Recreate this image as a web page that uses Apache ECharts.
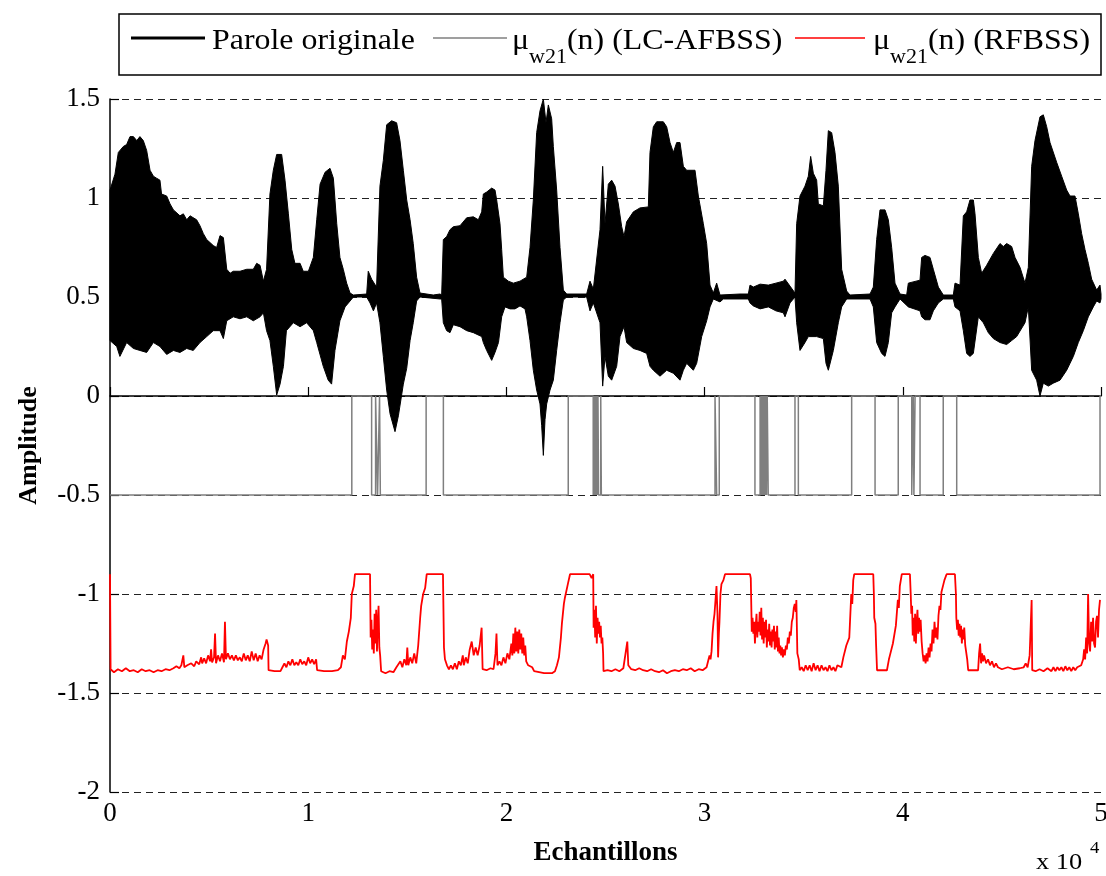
<!DOCTYPE html>
<html>
<head>
<meta charset="utf-8">
<script src="https://cdn.jsdelivr.net/npm/echarts@6/dist/echarts.min.js"></script>
<style>
  html, body { margin: 0; padding: 0; background: #fff; }
  #chart { width: 1106px; height: 876px; }
</style>
</head>
<body>
<div id="chart"></div>
<script>
// Speech waveform envelope (sample index, amplitude), offset around 0.5
const speechUpper = [
  [0,1.04],[250,1.12],[420,1.23],[670,1.26],[840,1.27],[1010,1.31],[1180,1.31],[1350,1.29],[1510,1.31],[1680,1.29],
  [1850,1.24],[2020,1.14],[2190,1.11],[2350,1.10],[2520,1.09],[2600,1.02],[2860,1.01],[3030,0.97],[3200,0.94],[3530,0.91],
  [3700,0.92],[3870,0.89],[4040,0.91],[4370,0.89],[4540,0.86],[4710,0.82],[4880,0.79],[5210,0.76],[5380,0.75],[5550,0.81],
  [5720,0.80],[5890,0.64],[6060,0.62],[6220,0.63],[6560,0.63],[6900,0.64],[7230,0.64],[7400,0.67],[7570,0.66],[7740,0.58],
  [7900,0.64],[8070,1.02],[8240,1.14],[8410,1.22],[8660,1.22],[8830,1.09],[9000,0.92],[9170,0.74],[9330,0.67],[9590,0.67],
  [9750,0.63],[10010,0.63],[10260,0.70],[10430,0.89],[10600,1.07],[10850,1.13],[11100,1.15],[11270,1.10],[11440,0.87],[11600,0.70],
  [11770,0.64],[11940,0.57],[12110,0.52],[12280,0.51],[12950,0.515],[13030,0.63],[13200,0.59],[13450,0.55],[13620,1.06],[13790,1.19],
  [13960,1.37],[14210,1.39],[14460,1.38],[14630,1.29],[14800,1.14],[14970,0.99],[15140,0.89],[15300,0.77],[15470,0.60],[15640,0.52],
  [16310,0.51],[16650,0.515],[16734,0.51],[16818,0.79],[16986,0.805],[17155,0.84],[17323,0.855],[17659,0.86],[17996,0.90],[18332,0.905],
  [18584,0.89],[18754,0.93],[18836,1.02],[19005,1.03],[19257,1.05],[19425,1.04],[19509,0.99],[19677,0.87],[19761,0.74],[19846,0.60],
  [20098,0.58],[20350,0.57],[20686,0.58],[21023,0.60],[21191,0.75],[21359,0.99],[21527,1.33],[21695,1.44],[21864,1.50],[21998,1.38],
  [22116,1.47],[22284,1.40],[22368,1.26],[22536,1.04],[22705,0.75],[22873,0.535],[23041,0.515],[24050,0.515],[24218,0.58],[24386,0.54],
  [24723,0.84],[24857,1.16],[24975,0.87],[25143,1.07],[25311,1.09],[25480,1.06],[25648,0.97],[25816,0.855],[25934,0.805],[26068,0.88],
  [26405,0.93],[26741,0.95],[27161,0.955],[27245,1.23],[27414,1.36],[27582,1.385],[27918,1.385],[28086,1.36],[28255,1.28],[28423,1.23],
  [28591,1.28],[28759,1.28],[28927,1.16],[29095,1.14],[29516,1.14],[29684,1.01],[29936,0.87],[30104,0.77],[30273,0.56],[30441,0.52],
  [30609,0.57],[30777,0.51],[31786,0.515],[32206,0.515],[32291,0.56],[32459,0.55],[32800,0.565],[33216,0.56],[33600,0.57],[33973,0.58],
  [34057,0.59],[34309,0.555],[34561,0.52],[34645,0.87],[34813,1.01],[35066,1.06],[35234,1.11],[35351,1.21],[35486,1.125],[35654,1.09],
  [35738,0.97],[35991,0.96],[36125,1.14],[36243,1.34],[36411,1.33],[36579,1.23],[36747,1.06],[36915,0.64],[37168,0.53],[37336,0.51],
  [38345,0.515],[38513,0.55],[38681,0.79],[38850,0.94],[39102,0.94],[39270,0.89],[39438,0.75],[39606,0.57],[39859,0.515],[40195,0.51],
  [40279,0.57],[40868,0.585],[40952,0.70],[41120,0.71],[41372,0.70],[41540,0.64],[41793,0.55],[42045,0.51],[42549,0.51],[42634,0.57],
  [42886,0.56],[43054,0.91],[43222,0.93],[43390,0.99],[43559,0.99],[43643,0.92],[43811,0.70],[43979,0.62],[44231,0.66],[44568,0.72],
  [44904,0.77],[45072,0.755],[45240,0.77],[45493,0.755],[45661,0.70],[45913,0.65],[46165,0.57],[46334,0.65],[46502,1.16],[46670,1.29],
  [46922,1.41],[47090,1.42],[47259,1.36],[47427,1.28],[47763,1.18],[48015,1.11],[48268,1.04],[48436,1.01],[48688,1.01],[48856,0.92],
  [49024,0.82],[49192,0.74],[49360,0.67],[49528,0.59],[49781,0.535],[49949,0.56],[50000,0.515]
];
const speechLower = [
  [0,0.28],[340,0.25],[500,0.20],[840,0.27],[1180,0.24],[1510,0.23],[1850,0.22],[2190,0.27],[2520,0.25],[2860,0.21],
  [3200,0.23],[3530,0.22],[3870,0.24],[4200,0.23],[4540,0.27],[4880,0.30],[5210,0.33],[5550,0.33],[5720,0.29],[5890,0.38],
  [6220,0.40],[6560,0.39],[6900,0.40],[7230,0.38],[7570,0.40],[7740,0.42],[7900,0.33],[8070,0.28],[8240,0.15],[8410,0.005],
  [8580,0.06],[8750,0.15],[8900,0.33],[9250,0.37],[9590,0.35],[9920,0.37],[10260,0.33],[10430,0.27],[10760,0.15],[11010,0.08],
  [11180,0.06],[11350,0.23],[11600,0.38],[11860,0.45],[12030,0.47],[12280,0.50],[12950,0.50],[13120,0.47],[13290,0.43],[13450,0.47],
  [13620,0.37],[13790,0.20],[13960,0.03],[14130,-0.09],[14380,-0.18],[14550,-0.10],[14800,0.06],[14970,0.14],[15140,0.28],[15300,0.37],
  [15470,0.48],[15640,0.50],[16650,0.49],[16734,0.49],[16818,0.37],[16986,0.33],[17155,0.32],[17323,0.36],[17659,0.35],[17996,0.33],
  [18332,0.32],[18754,0.30],[18836,0.27],[19005,0.23],[19257,0.18],[19425,0.22],[19600,0.27],[19761,0.40],[19930,0.45],[20182,0.44],
  [20434,0.44],[20686,0.455],[20939,0.44],[21023,0.40],[21191,0.28],[21359,0.13],[21527,0.03],[21695,-0.04],[21780,-0.15],[21864,-0.30],
  [21948,-0.12],[22032,-0.04],[22200,0.03],[22368,0.08],[22536,0.23],[22705,0.37],[22873,0.485],[23041,0.50],[24050,0.50],[24218,0.43],
  [24386,0.47],[24723,0.37],[24857,0.05],[24975,0.20],[25143,0.10],[25311,0.08],[25564,0.15],[25732,0.30],[25934,0.35],[26068,0.27],
  [26405,0.24],[26741,0.23],[27077,0.215],[27245,0.15],[27414,0.13],[27750,0.10],[28086,0.13],[28423,0.115],[28759,0.08],[28927,0.13],
  [29095,0.165],[29432,0.13],[29600,0.165],[29853,0.30],[30104,0.38],[30273,0.45],[30441,0.49],[30777,0.475],[30945,0.49],[31786,0.49],
  [32206,0.49],[32291,0.47],[32459,0.455],[32800,0.44],[33216,0.45],[33600,0.43],[33973,0.42],[34057,0.40],[34309,0.47],[34561,0.50],
  [34645,0.37],[34813,0.23],[35066,0.27],[35234,0.30],[35654,0.30],[35991,0.29],[36125,0.165],[36243,0.13],[36495,0.23],[36747,0.37],
  [36915,0.45],[37168,0.49],[38345,0.49],[38513,0.45],[38681,0.27],[38934,0.215],[39102,0.20],[39270,0.27],[39438,0.42],[39606,0.45],
  [39859,0.49],[40279,0.45],[40868,0.43],[40952,0.40],[41120,0.385],[41372,0.385],[41540,0.43],[41793,0.47],[42045,0.49],[42549,0.49],
  [42634,0.45],[42886,0.43],[43054,0.33],[43222,0.215],[43390,0.20],[43559,0.215],[43811,0.40],[44063,0.37],[44315,0.32],[44568,0.29],
  [44904,0.27],[45240,0.26],[45493,0.28],[45745,0.30],[46165,0.37],[46334,0.45],[46502,0.13],[46754,0.08],[46922,0.00],[47090,0.065],
  [47343,0.05],[47595,0.065],[47931,0.08],[48268,0.13],[48604,0.20],[48856,0.27],[49108,0.33],[49360,0.40],[49612,0.45],[49781,0.48],
  [49949,0.47],[50000,0.49]
];

// LC-AFBSS step size: intervals (start, end) where it sits at the upper level
const lcAfbssHighLevel = 0;
const lcAfbssLowLevel = -0.5;
const lcAfbssHigh = [
  [12200,13200],[13400,13500],[13600,13640],
  [15950,16820],
  [23120,24380],[24420,24450],[24490,24520],[24560,24590],[24620,24650],[24760,24790],
  [30525,30610],[30740,32540],
  [32800,32840],[32880,32910],[32950,32980],[33020,33050],[33090,33120],[33160,33210],
  [34560,34730],
  [37420,38600],
  [39770,40450],[40530,40560],[40620,40870],
  [42040,42720],
  [49950,50000]
];

// RFBSS step size (sample index, value)
const rfbss = [
  [0,-0.90],[30,-1.38],[200,-1.395],[400,-1.38],[600,-1.39],[800,-1.375],[1000,-1.39],[1200,-1.385],[1400,-1.395],[1600,-1.38],
  [1800,-1.39],[2000,-1.385],[2200,-1.395],[2400,-1.385],[2600,-1.39],[2800,-1.38],[3000,-1.385],[3200,-1.375],[3350,-1.365],[3500,-1.375],
  [3600,-1.36],[3700,-1.31],[3750,-1.37],[3900,-1.36],[4000,-1.37],[4100,-1.35],[4250,-1.365],[4350,-1.34],[4500,-1.355],[4600,-1.32],
  [4650,-1.35],[4750,-1.325],[4850,-1.35],[4950,-1.31],[5050,-1.34],[5100,-1.28],[5150,-1.345],[5250,-1.32],[5300,-1.20],[5350,-1.35],
  [5450,-1.31],[5550,-1.34],[5650,-1.30],[5750,-1.345],[5800,-1.14],[5850,-1.33],[5950,-1.30],[6050,-1.33],[6150,-1.31],[6250,-1.335],
  [6350,-1.31],[6450,-1.335],[6550,-1.32],[6650,-1.34],[6750,-1.30],[6850,-1.335],[6950,-1.31],[7050,-1.34],[7150,-1.29],[7250,-1.335],
  [7350,-1.30],[7450,-1.34],[7550,-1.31],[7650,-1.33],[7750,-1.28],[7850,-1.25],[7900,-1.23],[7980,-1.26],[8000,-1.385],[8300,-1.39],
  [8600,-1.39],[8700,-1.37],[8800,-1.35],[8900,-1.37],[9000,-1.34],[9100,-1.36],[9200,-1.33],[9300,-1.36],[9400,-1.345],[9500,-1.36],
  [9600,-1.33],[9700,-1.355],[9800,-1.34],[9900,-1.36],[10000,-1.32],[10100,-1.35],[10200,-1.33],[10300,-1.355],[10400,-1.33],[10450,-1.385],
  [10800,-1.39],[11200,-1.39],[11500,-1.385],[11650,-1.37],[11750,-1.31],[11850,-1.33],[11950,-1.24],[12050,-1.19],[12150,-1.12],[12200,-1.00],
  [12300,-0.96],[12360,-0.90],[13120,-0.90],[13150,-1.22],[13190,-1.13],[13230,-1.28],[13270,-1.18],[13310,-1.30],[13350,-1.10],[13390,-1.25],
  [13430,-1.08],[13470,-1.29],[13510,-1.15],[13550,-1.06],[13590,-1.27],[13630,-1.31],[13680,-1.39],[13900,-1.40],[14100,-1.39],[14300,-1.395],
  [14450,-1.37],[14550,-1.38],[14650,-1.34],[14750,-1.37],[14850,-1.33],[14950,-1.36],[15000,-1.27],[15050,-1.36],[15150,-1.32],[15250,-1.35],
  [15350,-1.30],[15450,-1.35],[15550,-1.26],[15650,-1.12],[15700,-1.06],[15800,-1.00],[15900,-0.97],[15980,-0.90],[16800,-0.90],[16850,-1.27],
  [16900,-1.33],[17000,-1.36],[17100,-1.38],[17200,-1.36],[17300,-1.38],[17400,-1.35],[17500,-1.38],[17600,-1.34],[17700,-1.36],[17800,-1.31],
  [17850,-1.36],[17950,-1.32],[18050,-1.35],[18150,-1.28],[18250,-1.24],[18350,-1.31],[18450,-1.27],[18550,-1.31],[18650,-1.26],[18750,-1.17],
  [18800,-1.38],[19000,-1.385],[19200,-1.375],[19350,-1.38],[19450,-1.30],[19500,-1.20],[19550,-1.36],[19650,-1.34],[19750,-1.36],[19850,-1.32],
  [19950,-1.35],[20050,-1.30],[20150,-1.33],[20250,-1.25],[20300,-1.31],[20350,-1.20],[20400,-1.30],[20450,-1.17],[20500,-1.29],[20550,-1.19],
  [20600,-1.30],[20650,-1.18],[20700,-1.28],[20750,-1.20],[20800,-1.30],[20850,-1.22],[20900,-1.31],[20950,-1.26],[21000,-1.34],[21100,-1.36],
  [21200,-1.35],[21300,-1.37],[21400,-1.39],[21500,-1.40],[21900,-1.40],[22300,-1.40],[22450,-1.39],[22550,-1.36],[22650,-1.32],[22750,-1.22],
  [22800,-1.15],[22900,-1.05],[22950,-1.02],[23100,-0.95],[23210,-0.90],[24200,-0.90],[24300,-0.92],[24380,-0.90],[24400,-1.17],[24440,-1.08],
  [24480,-1.22],[24520,-1.06],[24560,-1.25],[24600,-1.12],[24640,-1.20],[24680,-1.14],[24720,-1.22],[24760,-1.16],[24800,-1.25],[24840,-1.22],
  [24880,-1.30],[24900,-1.39],[25100,-1.385],[25300,-1.39],[25500,-1.38],[25700,-1.39],[25900,-1.375],[26000,-1.37],[26100,-1.24],[26150,-1.36],
  [26300,-1.38],[26500,-1.385],[26700,-1.375],[26900,-1.385],[27100,-1.39],[27300,-1.38],[27500,-1.39],[27700,-1.395],[27900,-1.385],[28100,-1.40],
  [28300,-1.39],[28500,-1.385],[28700,-1.39],[28900,-1.38],[29100,-1.385],[29300,-1.375],[29500,-1.39],[29700,-1.38],[29900,-1.385],[30100,-1.37],
  [30200,-1.33],[30250,-1.31],[30300,-1.33],[30350,-1.29],[30400,-1.20],[30450,-1.14],[30500,-1.10],[30550,-1.03],[30600,-0.96],[30620,-0.95],
  [30650,-1.10],[30680,-1.32],[30720,-1.20],[30750,-1.14],[30800,-1.00],[30850,-0.95],[30950,-0.93],[31030,-0.90],[32290,-0.90],[32330,-0.92],
  [32380,-1.19],[32420,-1.12],[32460,-1.20],[32500,-1.14],[32540,-1.25],[32580,-1.16],[32620,-1.10],[32660,-1.22],[32700,-1.14],[32740,-1.19],
  [32780,-1.09],[32820,-1.21],[32860,-1.07],[32900,-1.23],[32940,-1.12],[32980,-1.25],[33020,-1.14],[33060,-1.22],[33100,-1.13],[33140,-1.27],
  [33180,-1.18],[33220,-1.24],[33260,-1.15],[33300,-1.26],[33340,-1.19],[33380,-1.27],[33420,-1.18],[33460,-1.24],[33500,-1.16],[33540,-1.28],
  [33580,-1.19],[33620,-1.27],[33660,-1.16],[33700,-1.29],[33740,-1.22],[33780,-1.30],[33820,-1.26],[33860,-1.31],[33900,-1.27],[33950,-1.32],
  [34000,-1.28],[34050,-1.31],[34100,-1.26],[34150,-1.28],[34200,-1.22],[34250,-1.25],[34300,-1.19],[34350,-1.21],[34400,-1.14],[34450,-1.12],
  [34500,-1.07],[34550,-1.05],[34600,-1.09],[34630,-1.03],[34680,-1.30],[34750,-1.33],[34800,-1.385],[34900,-1.37],[35000,-1.39],[35100,-1.36],
  [35200,-1.385],[35300,-1.36],[35400,-1.39],[35500,-1.35],[35600,-1.385],[35700,-1.36],[35800,-1.39],[35900,-1.36],[36000,-1.385],[36100,-1.37],
  [36200,-1.39],[36300,-1.36],[36400,-1.385],[36500,-1.37],[36600,-1.39],[36700,-1.36],[36800,-1.35],[36900,-1.37],[37000,-1.32],[37100,-1.33],
  [37150,-1.26],[37250,-1.27],[37300,-1.22],[37400,-1.00],[37450,-1.05],[37500,-0.93],[37550,-0.90],[38510,-0.90],[38540,-1.00],[38560,-1.12],
  [38620,-1.15],[38650,-1.25],[38700,-1.385],[39200,-1.385],[39300,-1.33],[39350,-1.31],[39450,-1.30],[39500,-1.25],[39600,-1.24],[39650,-1.16],
  [39750,-1.03],[39800,-1.07],[39850,-0.96],[39950,-0.90],[40360,-0.90],[40400,-1.00],[40430,-1.10],[40470,-1.06],[40500,-1.21],[40540,-1.12],
  [40580,-1.24],[40620,-1.10],[40660,-1.25],[40700,-1.14],[40740,-1.08],[40780,-1.20],[40820,-1.12],[40860,-1.19],[40900,-1.13],[40950,-1.24],
  [41000,-1.30],[41050,-1.34],[41100,-1.31],[41150,-1.35],[41200,-1.30],[41250,-1.34],[41300,-1.27],[41350,-1.32],[41400,-1.25],[41450,-1.29],
  [41500,-1.18],[41550,-1.25],[41600,-1.14],[41650,-1.22],[41700,-1.17],[41750,-1.23],[41800,-1.11],[41850,-1.06],[41900,-1.08],[41950,-0.99],
  [42050,-0.95],[42100,-0.93],[42210,-0.90],[42630,-0.90],[42680,-1.00],[42700,-1.12],[42740,-1.18],[42780,-1.13],[42820,-1.21],[42860,-1.15],
  [42900,-1.22],[42940,-1.16],[42980,-1.25],[43020,-1.18],[43060,-1.23],[43100,-1.17],[43150,-1.26],[43200,-1.27],[43250,-1.33],[43300,-1.385],
  [43800,-1.385],[43850,-1.30],[43900,-1.25],[43950,-1.35],[44000,-1.30],[44050,-1.34],[44100,-1.31],[44200,-1.35],[44300,-1.33],[44400,-1.36],
  [44500,-1.34],[44600,-1.37],[44700,-1.35],[44800,-1.37],[44900,-1.36],[45000,-1.38],[45300,-1.37],[45600,-1.38],[45900,-1.375],[46100,-1.37],
  [46200,-1.35],[46300,-1.37],[46400,-1.31],[46450,-1.30],[46500,-1.03],[46530,-1.385],[46700,-1.39],[46900,-1.38],[47100,-1.39],[47300,-1.375],
  [47500,-1.39],[47600,-1.37],[47700,-1.39],[47800,-1.37],[47900,-1.385],[48000,-1.37],[48100,-1.39],[48200,-1.365],[48300,-1.385],[48400,-1.37],
  [48500,-1.39],[48600,-1.37],[48700,-1.385],[48800,-1.37],[48900,-1.38],[49000,-1.36],[49100,-1.33],[49150,-1.28],[49200,-1.33],[49250,-1.22],
  [49300,-1.30],[49350,-1.00],[49400,-1.25],[49450,-1.29],[49500,-1.14],[49550,-1.24],[49600,-1.12],[49650,-1.25],[49700,-1.27],[49750,-1.14],
  [49800,-1.11],[49850,-1.22],[49900,-1.08],[49950,-1.03]
];

const xTickLabels = ['0', '1', '2', '3', '4', '5'];
const xScaleNote = 'x 10';
const xScaleExp = '4';
const seriesNames = ['Parole originale', 'LC-AFBSS', 'RFBSS'];

// Build the step trace for LC-AFBSS from its high-level intervals
function buildStep(intervals, hi, lo, xEnd) {
  const pts = [[0, lo]];
  intervals.forEach(function (iv) {
    pts.push([iv[0], lo], [iv[0], hi], [iv[1], hi]);
    if (iv[1] < xEnd) pts.push([iv[1], lo]);
  });
  const last = pts[pts.length - 1];
  if (last[0] < xEnd) pts.push([xEnd, lo]);
  return pts;
}

const FONT = '"Liberation Serif", "Times New Roman", serif';
const TEXT_STRETCH = 1.1;
const chart = echarts.init(document.getElementById('chart'), null, { renderer: 'canvas' });

const subRich = {
  m: { fontFamily: FONT, fontSize: 29, color: '#000', lineHeight: 30 },
  s: { fontFamily: FONT, fontSize: 20, color: '#000', lineHeight: 20, verticalAlign: 'bottom', padding: [0, 0, -12, 0] }
};

chart.setOption({
  animation: false,
  backgroundColor: '#ffffff',
  grid: { left: 110, right: 5, top: 99, bottom: 84, containLabel: false, outerBoundsMode: 'none' },
  xAxis: {
    type: 'value', min: 0, max: 50000, interval: 10000,
    name: 'Echantillons', nameLocation: 'middle', nameGap: 48,
    nameTextStyle: { fontFamily: FONT, fontSize: 27, fontWeight: 'bold', color: '#000' },
    axisLine: { show: true, lineStyle: { color: '#000', width: 1.5 } },
    axisTick: { show: true, inside: true, length: 9, lineStyle: { color: '#000', width: 1.2 } },
    axisLabel: {
      fontFamily: FONT, fontSize: 27, color: '#000', margin: 8,
      showMinLabel: true, showMaxLabel: true, hideOverlap: false,
      formatter: function (v) { return xTickLabels[Math.round(v / 10000)]; }
    },
    splitLine: { show: false }
  },
  yAxis: {
    type: 'value', min: -2, max: 1.5, interval: 0.5,
    name: 'Amplitude', nameLocation: 'middle', nameGap: 68, nameRotate: 90,
    nameTextStyle: { fontFamily: FONT, fontSize: 26, fontWeight: 'bold', color: '#000' },
    axisLine: { show: true, lineStyle: { color: '#000', width: 1.5 } },
    axisTick: { show: true, inside: true, length: 9, lineStyle: { color: '#000', width: 1.2 } },
    axisLabel: { fontFamily: FONT, fontSize: 27, color: '#000', margin: 10 },
    splitLine: { show: true, lineStyle: { color: '#222', width: 1.2, type: [7, 5] } }
  },
  series: [
    {
      name: seriesNames[1],
      type: 'line',
      data: buildStep(lcAfbssHigh, lcAfbssHighLevel, lcAfbssLowLevel, 50000),
      showSymbol: false,
      lineStyle: { color: '#7f7f7f', width: 1.5 },
      z: 2
    },
    {
      name: seriesNames[0],
      type: 'custom',
      data: [[0, 0]],
      renderItem: function (params, api) {
        const pts = speechUpper.map(function (p) { return api.coord(p); })
          .concat(speechLower.slice().reverse().map(function (p) { return api.coord(p); }));
        return {
          type: 'polygon',
          shape: { points: pts },
          style: { fill: '#000', stroke: '#000', lineWidth: 1 }
        };
      },
      z: 3
    },
    {
      name: seriesNames[2],
      type: 'line',
      data: rfbss,
      showSymbol: false,
      lineStyle: { color: '#ff0000', width: 1.8 },
      z: 4
    }
  ],
  graphic: [
    { type: 'rect', shape: { x: 119, y: 14, width: 982, height: 61 },
      style: { fill: '#fff', stroke: '#000', lineWidth: 1.5 }, z: 10 },
    { type: 'line', shape: { x1: 131, y1: 38, x2: 205, y2: 38 },
      style: { stroke: '#000', lineWidth: 3 }, z: 11 },
    { type: 'text', x: 212, y: 41, scaleX: TEXT_STRETCH,
      style: { text: seriesNames[0], font: '29px ' + FONT, fill: '#000', verticalAlign: 'middle' }, z: 11 },
    { type: 'line', shape: { x1: 433, y1: 38, x2: 507, y2: 38 },
      style: { stroke: '#7f7f7f', lineWidth: 1.5 }, z: 11 },
    { type: 'text', x: 512, y: 26, scaleX: TEXT_STRETCH,
      style: { text: '{m|μ}{s|w21}{m|(n) (LC-AFBSS)}', rich: subRich }, z: 11 },
    { type: 'line', shape: { x1: 795, y1: 38, x2: 865, y2: 38 },
      style: { stroke: '#ff0000', lineWidth: 1.5 }, z: 11 },
    { type: 'text', x: 873, y: 26, scaleX: TEXT_STRETCH,
      style: { text: '{m|μ}{s|w21}{m|(n) (RFBSS)}', rich: subRich }, z: 11 },
    { type: 'text', x: 1036, y: 851, scaleX: TEXT_STRETCH,
      style: { text: xScaleNote, font: '24px ' + FONT, fill: '#000' }, z: 11 },
    { type: 'text', x: 1090, y: 840, scaleX: TEXT_STRETCH,
      style: { text: xScaleExp, font: '17px ' + FONT, fill: '#000' }, z: 11 }
  ]
});
</script>
</body>
</html>
